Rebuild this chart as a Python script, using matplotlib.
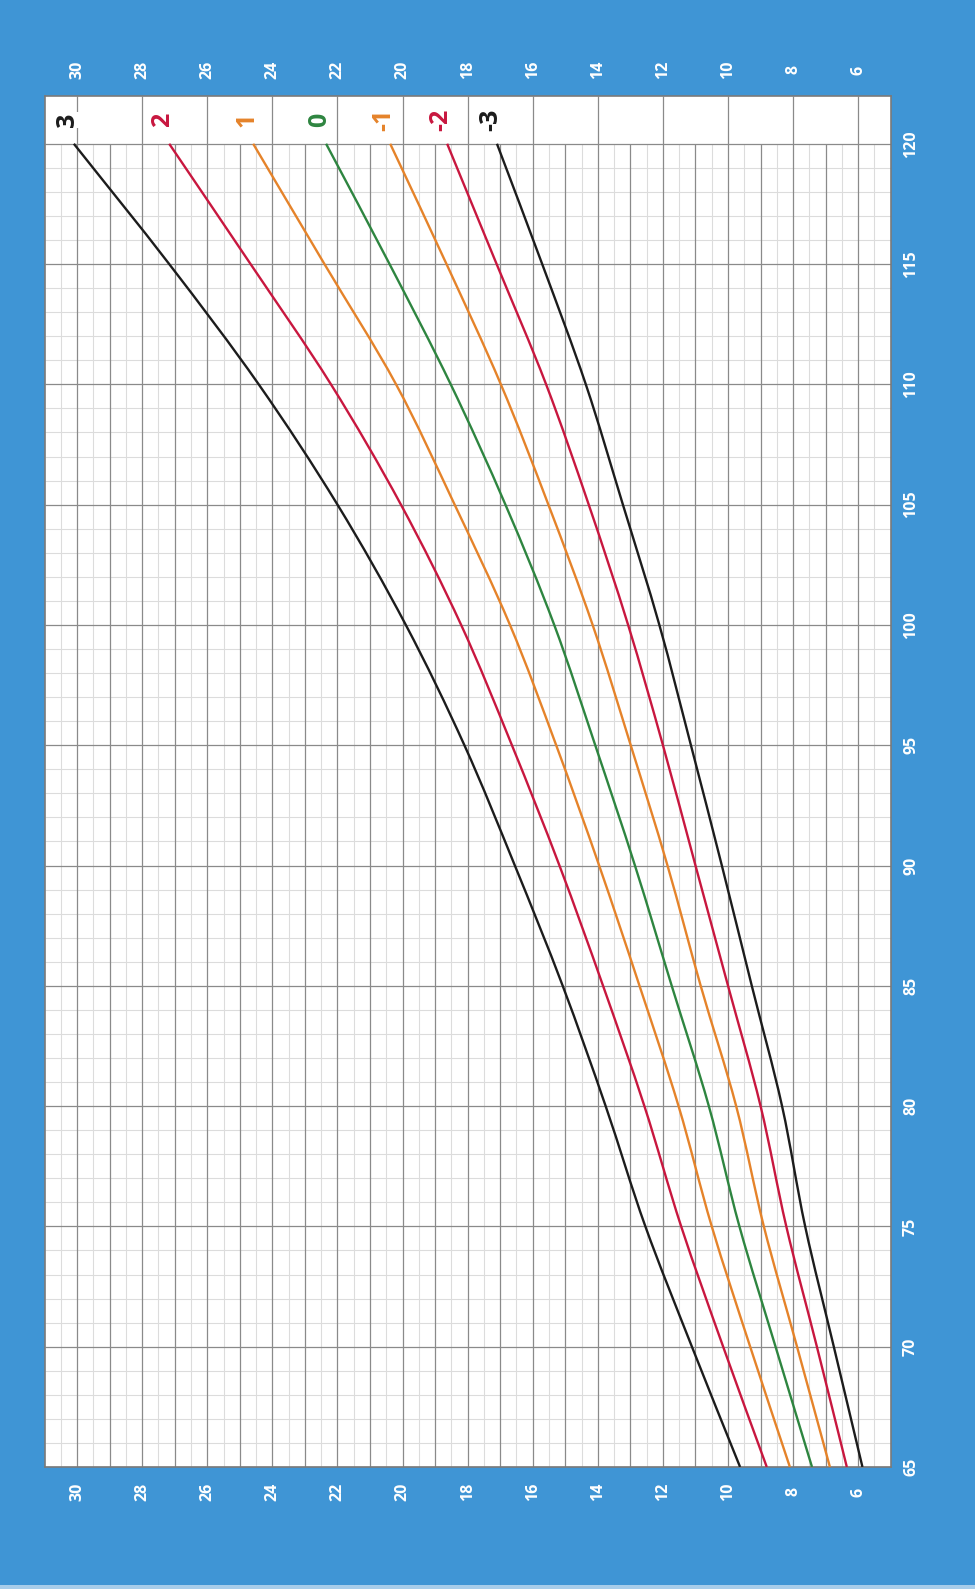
import matplotlib
matplotlib.use("Agg")
import matplotlib.pyplot as plt
import matplotlib.transforms as mtransforms
from matplotlib.path import Path
from matplotlib.patches import PathPatch
import numpy as np

# weight-for-height z-score curves (kg), read every 5 cm
LENGTH_CM = [65, 70, 75, 80, 85, 90, 95, 100, 105, 110, 115, 120]
Z_LABELS = ["3", "2", "1", "0", "-1", "-2", "-3"]
SD3 = [9.63, 11.11, 12.54, 13.76, 15.08, 16.55, 18.10, 19.90, 22.00, 24.42, 27.17, 30.10]
SD2 = [8.81, 10.15, 11.44, 12.57, 13.84, 15.18, 16.64, 18.20, 20.05, 22.20, 24.67, 27.17]
SD1 = [8.10, 9.32, 10.50, 11.52, 12.72, 13.96, 15.28, 16.70, 18.40, 20.20, 22.40, 24.59]
SD0 = [7.42, 8.54, 9.65, 10.59, 11.73, 12.86, 14.08, 15.34, 16.84, 18.52, 20.40, 22.35]
SDM1 = [6.87, 7.88, 8.90, 9.75, 10.84, 11.86, 12.99, 14.16, 15.52, 16.98, 18.65, 20.38]
SDM2 = [6.35, 7.27, 8.21, 9.00, 10.00, 11.00, 12.00, 13.07, 14.28, 15.59, 17.11, 18.63]
SDM3 = [5.87, 6.75, 7.63, 8.34, 9.27, 10.19, 11.14, 12.11, 13.23, 14.37, 15.71, 17.10]
CURVES = [SD3, SD2, SD1, SD0, SDM1, SDM2, SDM3]

WEIGHT_TICKS = list(range(30, 5, -2))
LENGTH_TICKS = list(range(65, 121, 5))

BG = "#3f95d5"
BLACK = "#1c1c1c"
RED = "#c8173f"
ORANGE = "#e5832a"
GREEN = "#2e8540"
COLORS = [BLACK, RED, ORANGE, GREEN, ORANGE, RED, BLACK]
DARK = "#8a8a8a"
LIGHT = "#dcdcdc"


def smooth_path(xs, ys):
    """Bezier path through every point (Catmull-Rom tangents), like a printed curve."""
    p = np.column_stack([xs, ys]).astype(float)
    ext = np.vstack([2 * p[0] - p[1], p, 2 * p[-1] - p[-2]])
    verts, codes = [p[0]], [Path.MOVETO]
    for i in range(1, len(ext) - 2):
        c1 = ext[i] + (ext[i + 1] - ext[i - 1]) / 6
        c2 = ext[i + 1] - (ext[i + 2] - ext[i]) / 6
        verts += [c1, c2, ext[i + 1]]
        codes += [Path.CURVE4] * 3
    return Path(verts, codes)


plt.rcParams["font.family"] = ["Open Sans", "DejaVu Sans"]

fig = plt.figure(figsize=(9.75, 15.89), dpi=100, facecolor=BG)
ax = fig.add_axes([0.0457, 0.0768, 0.8679, 0.8630])
ax.set_facecolor("white")
ax.set_xlim(31, 5)
ax.set_ylim(65, 122)
ax.set_xticks([])
ax.set_yticks([])
for s in ax.spines.values():
    s.set_color("#7a7a7a")
    s.set_linewidth(1.2)

# grid: light minor lines, darker major lines
for w in np.arange(5.5, 31, 1.0):
    ax.vlines(w, 65, 120, color=LIGHT, lw=0.8, zorder=1)
for L in range(66, 120):
    if L % 5:
        ax.hlines(L, 5, 31, color=LIGHT, lw=0.8, zorder=1)
for w in range(6, 31):
    ax.vlines(w, 65, 120, color=DARK, lw=0.9, zorder=2)
for w in WEIGHT_TICKS:
    ax.vlines(w, 120, 122, color=DARK, lw=0.9, zorder=2)
for L in LENGTH_TICKS:
    ax.hlines(L, 5, 31, color=DARK, lw=0.9, zorder=2)

for vals, col, lab in zip(CURVES, COLORS, Z_LABELS):
    ax.add_patch(PathPatch(smooth_path(vals, LENGTH_CM), fill=False, edgecolor=col,
                           lw=1.7, zorder=3, capstyle="butt"))
    ax.text(vals[-1] + 0.2, 121.0, lab, rotation=90, ha="center", va="center",
            color=col, fontsize=18, fontweight="bold", zorder=4,
            bbox=dict(facecolor="white", edgecolor="none", pad=0.5))

# tick labels in white on the blue border
xfig = mtransforms.blended_transform_factory(ax.transData, fig.transFigure)
yfig = mtransforms.blended_transform_factory(fig.transFigure, ax.transData)
for w in WEIGHT_TICKS:
    for yf in (1 - 70 / 1589, 1 - 1492 / 1589):
        ax.text(w, yf, str(w), transform=xfig, rotation=90, ha="center", va="center",
                color="white", fontsize=11.5, fontweight="bold", clip_on=False)
for L in LENGTH_TICKS:
    ax.text(911 / 975, L, str(L), transform=yfig, rotation=90, ha="center", va="center",
            color="white", fontsize=11.5, fontweight="bold", clip_on=False)

# thin light strip at the bottom edge of the scan
fig.patches.append(plt.Rectangle((0, 0), 1, 4 / 1589, transform=fig.transFigure,
                                 facecolor="#a8cdea", edgecolor="none"))

fig.savefig("out.png", dpi=100, facecolor=BG)
